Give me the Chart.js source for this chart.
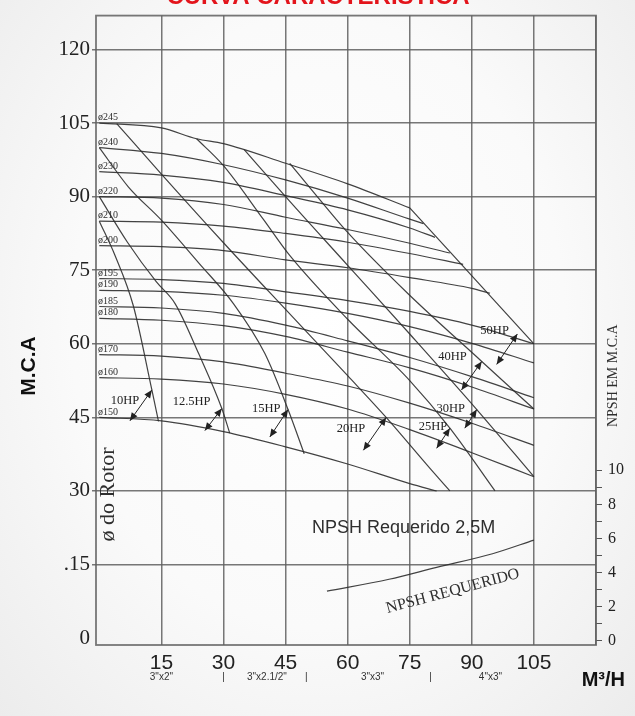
<!DOCTYPE html>
<html>
<head>
<meta charset="utf-8">
<script src="https://cdn.jsdelivr.net/npm/chart.js@4.4.1/dist/chart.umd.min.js"></script>
<style>
  html, body { margin: 0; padding: 0; }
  body {
    width: 635px; height: 716px; overflow: hidden;
    background: radial-gradient(ellipse at 50% 45%, #ffffff 0%, #fafafa 55%, #ececec 100%);
  }
  canvas { display: block; }
</style>
</head>
<body>
<canvas id="curveChart" width="635" height="716"></canvas>
<script>
// Axis ticks
const flowTicks = [15, 30, 45, 60, 75, 90, 105];
const headTicks = [0, 15, 30, 45, 60, 75, 90, 105, 120];
const headLabels = ['0', '.15', '30', '45', '60', '75', '90', '105', '120'];
const npshTicks = [0, 1, 2, 3, 4, 5, 6, 7, 8, 9, 10];
const npshLabels = [0, 2, 4, 6, 8, 10];

// Rotor curves: [vazão m3/h, altura m.c.a]
const rotorNames = ['ø245', 'ø240', 'ø230', 'ø220', 'ø210', 'ø200', 'ø195', 'ø190', 'ø185', 'ø180', 'ø170', 'ø160', 'ø150'];
const d245 = [[0, 105], [15, 104], [23.5, 101.8], [30, 100.8], [45, 96.8], [60, 92.6], [75, 87.7]];
const d240 = [[0, 100], [15, 98.8], [30, 96.5], [45, 93.4], [60, 89.7], [75, 85.4], [78.3, 84.5]];
const d230 = [[0, 95.1], [15, 94.4], [30, 92.9], [45, 90.2], [60, 87.3], [75, 83.6], [81.1, 81.7]];
const d220 = [[0, 90], [15, 89.7], [30, 88.4], [45, 85.8], [60, 83.3], [75, 80.5], [84.7, 78.5]];
const d210 = [[0, 85], [15, 84.8], [30, 84], [45, 82.5], [60, 80.7], [75, 78.4], [87.9, 76.2]];
const d200 = [[0, 80], [15, 79.8], [30, 79], [45, 77.1], [60, 75.5], [75, 73.5], [90, 71.3], [94.4, 70.3]];
const d195 = [[0, 73.3], [15, 73.1], [30, 72.3], [45, 70.6], [60, 68.8], [75, 66.6], [90, 63.8], [105, 60]];
const d190 = [[0, 70.9], [15, 70.7], [30, 69.9], [45, 68.3], [60, 66.2], [75, 63.5], [90, 60.1], [105, 56.1]];
const d185 = [[0, 67.6], [15, 67.3], [30, 66.2], [45, 63.8], [60, 60.6], [75, 57.2], [90, 53.3], [105, 49]];
const d180 = [[0, 65.2], [15, 64.8], [30, 63.7], [45, 61.5], [60, 58.3], [75, 55.1], [90, 51.2], [105, 46.7]];
const d170 = [[0, 57.8], [15, 57.5], [30, 56.3], [45, 54], [60, 51.4], [75, 47.9], [90, 43.8], [105, 39.3]];
const d160 = [[0, 53.1], [15, 52.8], [30, 51.8], [45, 49.7], [60, 46.7], [75, 42.5], [90, 37.8], [105, 32.9]];
const d150 = [[0, 45], [15, 44.3], [30, 42.1], [45, 39], [60, 35.5], [75, 31.5], [81.5, 30]];
const rotorCurves = [d245, d240, d230, d220, d210, d200, d195, d190, d185, d180, d170, d160, d150];

// Power lines (HP)
const hpNames = ['10HP', '12.5HP', '15HP', '20HP', '25HP', '30HP', '40HP', '50HP'];
const hp10 = [[0, 85], [3.8, 78], [8.2, 67.8], [12.7, 50.6], [14.3, 44.2]];
const hp12 = [[0, 90], [6.8, 80.7], [13.8, 72.6], [18.3, 68.2], [24, 58], [29.6, 46.8], [31.5, 41.8]];
const hp15 = [[0, 100], [7, 92], [15, 85.2], [24, 76.5], [32.4, 68.2], [40, 58], [45.6, 46.6], [49.5, 37.6]];
const hp20 = [[4.2, 104.9], [15, 94.6], [30, 80.6], [45, 67], [60, 53.5], [69.3, 45], [80, 34.5], [84.7, 30]];
const hp25 = [[23.5, 101.8], [29.8, 96.5], [39.6, 85.4], [46, 78], [60, 65], [75, 52.5], [84.7, 42.8], [95.6, 30]];
const hp30 = [[35, 99.6], [45, 90], [60, 76], [75, 62], [91.2, 46.6], [105, 32.9]];
const hp40 = [[46, 96.8], [51, 91.7], [60, 82.7], [74.6, 70.2], [92.4, 56.4], [105, 46.7]];
const hp50 = [[75, 87.7], [105, 60]];
const hpCurves = [hp10, hp12, hp15, hp20, hp25, hp30, hp40, hp50];
const hpArrowTop = [[12.7, 50.6], [29.6, 46.8], [45.6, 46.6], [69.3, 45], [84.7, 42.8], [91.2, 46.6], [92.4, 56.4], [101, 62]];
const hpArrowBottom = [[7.4, 44.3], [25.5, 42.3], [41.2, 41], [63.8, 38.3], [81.5, 38.7], [88.3, 42.8], [87.5, 50.6], [96, 55.8]];
const hpLabelAt = [[6.2, 48.3], [22.3, 48.2], [40.3, 46.7], [60.8, 42.6], [80.6, 43], [84.9, 46.8], [85.3, 57.3], [95.5, 62.7]];

// NPSH requerido (eixo direito, m.c.a)
const npshFlow = [55, 70, 81.5, 95, 105];
const npshReq = [2.9, 3.6, 4.3, 5.1, 5.9];

// Bocais (sucção x recalque)
const pipeNames = ['3"x2"', '3"x2.1/2"', '3"x3"', '4"x3"'];
const pipeAt = [15, 40.5, 66, 94.5];
const pipeBreaks = [30, 50, 80];

const SERIF = "'Liberation Serif', 'Times New Roman', serif";
const SANS = "'Liberation Sans', Arial, sans-serif";
const NARROW = "'Liberation Sans Narrow', 'Liberation Sans', Arial, sans-serif";
const GRID = 'rgba(95, 95, 95, 0.85)';
const INK = '#2e2e2e';

function toPoints(pairs) {
    return pairs.map(p => ({ x: p[0], y: p[1] }));
}

function lineDataset(pairs, extra) {
    return Object.assign({
        data: toPoints(pairs),
        showLine: true,
        borderColor: 'rgba(45, 45, 45, 0.9)',
        borderWidth: 1.2,
        pointRadius: 0,
        fill: false,
        cubicInterpolationMode: 'monotone',
        yAxisID: 'y'
    }, extra || {});
}

/**
 * Double headed arrow
 */
function drawArrow(ctx, x1, y1, x2, y2) {
    const ang = Math.atan2(y2 - y1, x2 - x1);
    ctx.beginPath();
    ctx.moveTo(x1, y1);
    ctx.lineTo(x2, y2);
    ctx.stroke();
    arrowHead(ctx, x2, y2, ang);
    arrowHead(ctx, x1, y1, ang + Math.PI);
}

function arrowHead(ctx, x, y, ang) {
    const len = 8, half = 3.5;
    const c = Math.cos(ang), s = Math.sin(ang);
    ctx.beginPath();
    ctx.moveTo(x, y);
    ctx.lineTo(x - len * c + half * s, y - len * s - half * c);
    ctx.lineTo(x - len * c - half * s, y - len * s + half * c);
    ctx.closePath();
    ctx.fill();
}

function rotatedText(ctx, text, x, y, angle) {
    ctx.save();
    ctx.translate(x, y);
    ctx.rotate(angle);
    ctx.fillText(text, 0, 0);
    ctx.restore();
}

// Plot frame
const framePlugin = {
    id: 'frame',
    beforeDatasetsDraw(chart) {
        const { ctx, chartArea: a } = chart;
        ctx.save();
        ctx.strokeStyle = GRID;
        ctx.lineWidth = 1.8;
        ctx.strokeRect(a.left, a.top, a.right - a.left, a.bottom - a.top);
        ctx.restore();
    }
};

// Texts, labels and arrows
const notesPlugin = {
    id: 'notes',
    afterDraw(chart) {
        const { ctx, chartArea: a } = chart;
        const x = chart.scales.x, y = chart.scales.y, y2 = chart.scales.y2;
        ctx.save();

        // title (cut at the top edge)
        ctx.fillStyle = '#e3141b';
        ctx.font = 'bold 24px ' + SANS;
        ctx.textAlign = 'center';
        ctx.textBaseline = 'alphabetic';
        ctx.fillText('CURVA CARACTERÍSTICA', 318, 4);

        // rotor labels
        ctx.fillStyle = INK;
        ctx.font = '10px ' + SERIF;
        ctx.textAlign = 'left';
        ctx.textBaseline = 'middle';
        rotorCurves.forEach((c, i) => {
            ctx.fillText(rotorNames[i], a.left + 2, y.getPixelForValue(c[0][1]) - 5.5);
        });

        // HP labels and arrows
        ctx.font = '12.5px ' + SERIF;
        ctx.textAlign = 'center';
        ctx.strokeStyle = '#222';
        ctx.fillStyle = '#222';
        ctx.lineWidth = 1;
        hpNames.forEach((name, i) => {
            const lp = hpLabelAt[i];
            ctx.fillText(name, x.getPixelForValue(lp[0]), y.getPixelForValue(lp[1]));
            const t = hpArrowTop[i], b = hpArrowBottom[i];
            drawArrow(ctx,
                x.getPixelForValue(b[0]), y.getPixelForValue(b[1]),
                x.getPixelForValue(t[0]), y.getPixelForValue(t[1]));
        });

        // ø do Rotor
        ctx.fillStyle = INK;
        ctx.font = '22px ' + SERIF;
        ctx.textAlign = 'center';
        ctx.textBaseline = 'middle';
        rotatedText(ctx, 'ø do Rotor', a.left + 12, y.getPixelForValue(29.3), -Math.PI / 2);

        // NPSH texts
        ctx.font = '18px ' + SANS;
        ctx.textAlign = 'left';
        ctx.fillText('NPSH Requerido 2,5M', x.getPixelForValue(51.4), y2.getPixelForValue(6.6));

        ctx.font = '16px ' + SERIF;
        ctx.textAlign = 'center';
        rotatedText(ctx, 'NPSH REQUERIDO', x.getPixelForValue(85.4), y2.getPixelForValue(2.9), -15 * Math.PI / 180);

        ctx.font = '14px ' + SERIF;
        rotatedText(ctx, 'NPSH EM M.C.A', a.right + 17, y.getPixelForValue(53.5), -Math.PI / 2);

        // pipe sizes under the flow axis
        ctx.font = '10px ' + NARROW;
        ctx.fillStyle = '#333';
        pipeNames.forEach((name, i) => {
            ctx.fillText(name, x.getPixelForValue(pipeAt[i]), a.bottom + 32);
        });
        pipeBreaks.forEach(v => {
            ctx.fillText('|', x.getPixelForValue(v), a.bottom + 32);
        });

        // axis titles
        ctx.fillStyle = '#111';
        ctx.font = 'bold 21px ' + SANS;
        rotatedText(ctx, 'M.C.A', 29, 366, -Math.PI / 2);
        ctx.font = 'bold 20px ' + SANS;
        ctx.textAlign = 'right';
        ctx.fillText('M³/H', 625, 680);

        ctx.restore();
    }
};

const datasets = [];
rotorCurves.forEach(c => datasets.push(lineDataset(c)));
hpCurves.forEach(c => datasets.push(lineDataset(c)));
datasets.push(lineDataset(npshFlow.map((q, i) => [q, npshReq[i]]), { yAxisID: 'y2' }));

new Chart(document.getElementById('curveChart'), {
    type: 'scatter',
    data: { datasets: datasets },
    options: {
        responsive: false,
        animation: false,
        layout: { padding: { top: 9, left: 0, right: 0, bottom: 0 } },
        plugins: {
            legend: { display: false },
            tooltip: { enabled: false }
        },
        scales: {
            x: {
                type: 'linear',
                min: -0.8,
                max: 120,
                afterBuildTicks: s => { s.ticks = flowTicks.concat([120]).map(v => ({ value: v })); },
                afterFit: s => { s.height = 71; },
                grid: { color: GRID, lineWidth: 1.5, drawTicks: false },
                border: { display: false },
                ticks: {
                    autoSkip: false,
                    maxRotation: 0,
                    padding: 6,
                    color: '#222',
                    font: { family: NARROW, size: 21 },
                    callback: v => flowTicks.includes(v) ? String(v) : ''
                }
            },
            y: {
                type: 'linear',
                min: -1.4,
                max: 126.9,
                afterBuildTicks: s => { s.ticks = headTicks.map(v => ({ value: v })); },
                afterFit: s => { s.width = 96; },
                grid: {
                    color: c => (c.tick && c.tick.value === 0) ? 'rgba(0,0,0,0)' : GRID,
                    lineWidth: 1.5,
                    tickLength: 4
                },
                border: { display: false },
                ticks: {
                    autoSkip: false,
                    padding: 2,
                    color: '#222',
                    font: { family: SERIF, size: 21 },
                    callback: v => headLabels[headTicks.indexOf(v)]
                }
            },
            y2: {
                type: 'linear',
                position: 'right',
                min: -0.26,
                max: 36.7,
                afterBuildTicks: s => { s.ticks = npshTicks.map(v => ({ value: v })); },
                afterFit: s => { s.width = 39; },
                grid: { drawOnChartArea: false, color: '#555', tickLength: 6 },
                border: { display: false },
                ticks: {
                    autoSkip: false,
                    padding: 6,
                    color: '#222',
                    font: { family: SERIF, size: 16 },
                    callback: v => npshLabels.includes(v) ? String(v) : ''
                }
            }
        }
    },
    plugins: [framePlugin, notesPlugin]
});
</script>
</body>
</html>
